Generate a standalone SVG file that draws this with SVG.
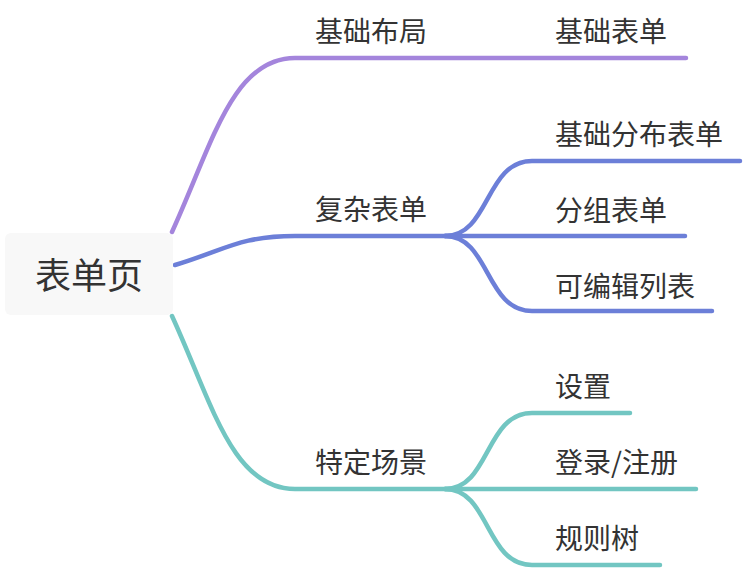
<svg xmlns="http://www.w3.org/2000/svg" width="744" height="568" viewBox="0 0 744 568">
<style>
.t{font-family:"Noto Sans CJK SC","Noto Sans",sans-serif;fill:#333333;font-size:28px}
.root{font-size:36px}
.c{fill:none;stroke-width:4.5;stroke-linecap:round}
.p{stroke:#a485dc}
.b{stroke:#6c7fd8}
.g{stroke:#72c6c2}
</style>
<rect width="744" height="568" fill="#ffffff"/>
<g id="connectors">
<path class="c p" d="M172 232 C212 145 232 58 295 58 L686 58"/>
<path class="c b" d="M175 265 C225 250 240 236 295 236 L455 236"/>
<path class="c b" d="M445 236 C490 236 485 161 532 161 L740 161"/>
<path class="c b" d="M445 236 L685 236"/>
<path class="c b" d="M445 236 C490 236 485 311 532 311 L712 311"/>
<path class="c g" d="M172 316 C212 403 232 489 295 489 L455 489"/>
<path class="c g" d="M445 489 C490 489 485 413 532 413 L630 413"/>
<path class="c g" d="M445 489 L696 489"/>
<path class="c g" d="M445 489 C490 489 485 565 532 565 L660 565"/>
</g>
<g id="root">
<rect x="5" y="233" width="168" height="82" rx="6" fill="#f8f8f8"/>
<text class="t root" x="89" y="289" text-anchor="middle">表单页</text>
</g>
<g id="n-jichubuju"><text class="t" x="315" y="42">基础布局</text></g>
<g id="n-jichubiaodan"><text class="t" x="555" y="42">基础表单</text></g>
<g id="n-fuzabiaodan"><text class="t" x="315" y="220">复杂表单</text></g>
<g id="n-jichufenbu"><text class="t" x="555" y="145">基础分布表单</text></g>
<g id="n-fenzu"><text class="t" x="555" y="221">分组表单</text></g>
<g id="n-kebianji"><text class="t" x="555" y="297">可编辑列表</text></g>
<g id="n-tedingchangjing"><text class="t" x="315" y="473">特定场景</text></g>
<g id="n-shezhi"><text class="t" x="555" y="397">设置</text></g>
<g id="n-denglu"><text class="t" x="555" y="473">登录/注册</text></g>
<g id="n-guizeshu"><text class="t" x="555" y="549">规则树</text></g>
</svg>
